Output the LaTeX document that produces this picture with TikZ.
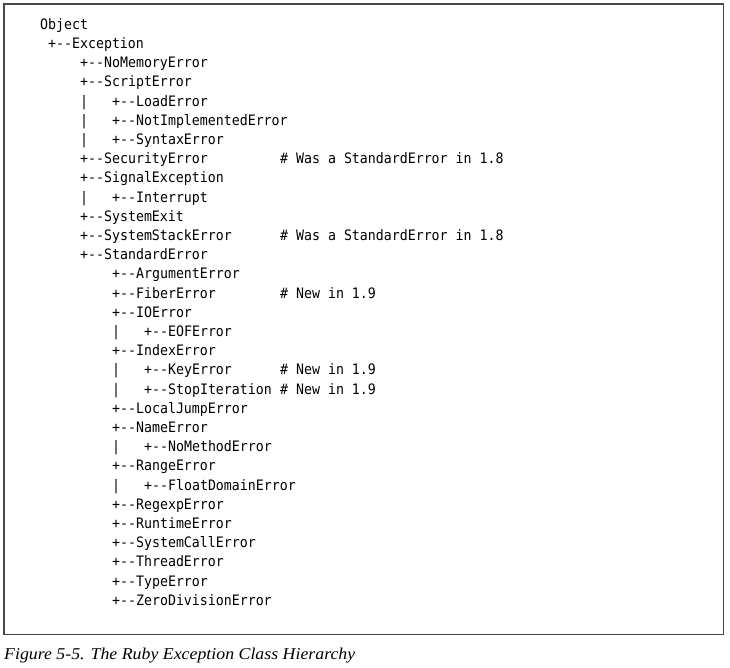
\documentclass[tikz,border=0pt]{standalone}
\usepackage{fontspec}
\setmonofont{DejaVu Sans Mono}[FakeStretch=0.92]
\newfontfamily\capfont{Liberation Serif}[FakeStretch=1.08]
\begin{document}
\begin{tikzpicture}[x=1pt,y=-1pt,
  codetext/.style={anchor=base west,inner sep=0pt,font=\fontsize{14.4}{17}\ttfamily},
  frame/.style={draw=black!72,line width=1.5pt},
  captext/.style={anchor=base west,inner sep=0pt,font=\fontsize{16.5}{19}\capfont\itshape}]
\useasboundingbox (0,0) rectangle (730,667);
\draw[frame] (4,4) rectangle (723.5,634.5);
\def\bl#1{29.3+19.2*#1}
\def\cx#1{40+8*#1}
% tree entries
\node[codetext] (l0) at ({\cx{0}},{\bl{0}}) {Object};
\node[codetext] (l1) at ({\cx{1}},{\bl{1}}) {+-{}-Exception};
\node[codetext] (l2) at ({\cx{5}},{\bl{2}}) {+-{}-NoMemoryError};
\node[codetext] (l3) at ({\cx{5}},{\bl{3}}) {+-{}-ScriptError};
\node[codetext] (b4) at ({\cx{5}},{\bl{4}}) {|};
\node[codetext] (l4) at ({\cx{9}},{\bl{4}}) {+-{}-LoadError};
\node[codetext] (b5) at ({\cx{5}},{\bl{5}}) {|};
\node[codetext] (l5) at ({\cx{9}},{\bl{5}}) {+-{}-NotImplementedError};
\node[codetext] (b6) at ({\cx{5}},{\bl{6}}) {|};
\node[codetext] (l6) at ({\cx{9}},{\bl{6}}) {+-{}-SyntaxError};
\node[codetext] (l7) at ({\cx{5}},{\bl{7}}) {+-{}-SecurityError};
\node[codetext] (c7) at ({\cx{30}},{\bl{7}}) {\# Was a StandardError in 1.8};
\node[codetext] (l8) at ({\cx{5}},{\bl{8}}) {+-{}-SignalException};
\node[codetext] (b9) at ({\cx{5}},{\bl{9}}) {|};
\node[codetext] (l9) at ({\cx{9}},{\bl{9}}) {+-{}-Interrupt};
\node[codetext] (l10) at ({\cx{5}},{\bl{10}}) {+-{}-SystemExit};
\node[codetext] (l11) at ({\cx{5}},{\bl{11}}) {+-{}-SystemStackError};
\node[codetext] (c11) at ({\cx{30}},{\bl{11}}) {\# Was a StandardError in 1.8};
\node[codetext] (l12) at ({\cx{5}},{\bl{12}}) {+-{}-StandardError};
\node[codetext] (l13) at ({\cx{9}},{\bl{13}}) {+-{}-ArgumentError};
\node[codetext] (l14) at ({\cx{9}},{\bl{14}}) {+-{}-FiberError};
\node[codetext] (c14) at ({\cx{30}},{\bl{14}}) {\# New in 1.9};
\node[codetext] (l15) at ({\cx{9}},{\bl{15}}) {+-{}-IOError};
\node[codetext] (b16) at ({\cx{9}},{\bl{16}}) {|};
\node[codetext] (l16) at ({\cx{13}},{\bl{16}}) {+-{}-EOFError};
\node[codetext] (l17) at ({\cx{9}},{\bl{17}}) {+-{}-IndexError};
\node[codetext] (b18) at ({\cx{9}},{\bl{18}}) {|};
\node[codetext] (l18) at ({\cx{13}},{\bl{18}}) {+-{}-KeyError};
\node[codetext] (c18) at ({\cx{30}},{\bl{18}}) {\# New in 1.9};
\node[codetext] (b19) at ({\cx{9}},{\bl{19}}) {|};
\node[codetext] (l19) at ({\cx{13}},{\bl{19}}) {+-{}-StopIteration};
\node[codetext] (c19) at ({\cx{30}},{\bl{19}}) {\# New in 1.9};
\node[codetext] (l20) at ({\cx{9}},{\bl{20}}) {+-{}-LocalJumpError};
\node[codetext] (l21) at ({\cx{9}},{\bl{21}}) {+-{}-NameError};
\node[codetext] (b22) at ({\cx{9}},{\bl{22}}) {|};
\node[codetext] (l22) at ({\cx{13}},{\bl{22}}) {+-{}-NoMethodError};
\node[codetext] (l23) at ({\cx{9}},{\bl{23}}) {+-{}-RangeError};
\node[codetext] (b24) at ({\cx{9}},{\bl{24}}) {|};
\node[codetext] (l24) at ({\cx{13}},{\bl{24}}) {+-{}-FloatDomainError};
\node[codetext] (l25) at ({\cx{9}},{\bl{25}}) {+-{}-RegexpError};
\node[codetext] (l26) at ({\cx{9}},{\bl{26}}) {+-{}-RuntimeError};
\node[codetext] (l27) at ({\cx{9}},{\bl{27}}) {+-{}-SystemCallError};
\node[codetext] (l28) at ({\cx{9}},{\bl{28}}) {+-{}-ThreadError};
\node[codetext] (l29) at ({\cx{9}},{\bl{29}}) {+-{}-TypeError};
\node[codetext] (l30) at ({\cx{9}},{\bl{30}}) {+-{}-ZeroDivisionError};
% caption
\node[captext] (cap) at (4,659.3) {Figure 5-5. The Ruby Exception Class Hierarchy};
\end{tikzpicture}
\end{document}
